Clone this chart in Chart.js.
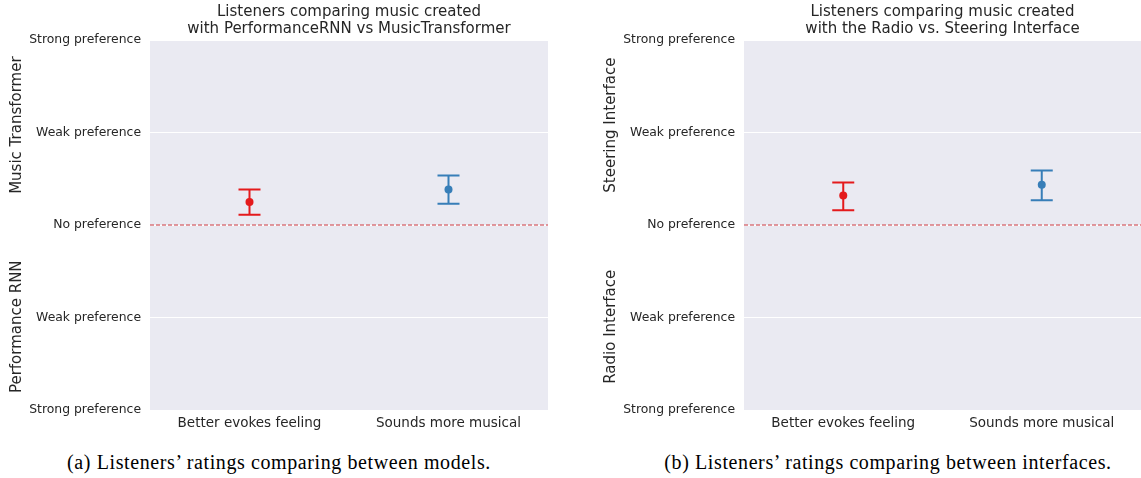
<!DOCTYPE html>
<html>
<head>
<meta charset="utf-8">
<script src="https://cdn.jsdelivr.net/npm/chart.js@4"></script>
<style>
  html, body { margin: 0; padding: 0; background: #ffffff; }
  #wrap { position: relative; width: 1141px; height: 478px; overflow: hidden; }
  canvas { position: absolute; top: 0; }
  .cap { position: absolute; top: 451px; font-family: "Liberation Serif", "DejaVu Serif", serif; font-size: 20px; letter-spacing: 0.6px; color: #000; white-space: nowrap; transform: translateX(-50%); }
</style>
</head>
<body>
<div id="wrap">
  <canvas id="chartA" width="552" height="445" style="left:0px"></canvas>
  <canvas id="chartB" width="551" height="445" style="left:594px"></canvas>
  <div class="cap" id="capA" style="left:279px"></div>
  <div class="cap" id="capB" style="left:888px"></div>
</div>
<script>
// ---------- data ----------
const categories = ["Better evokes feeling", "Sounds more musical"];
const yTickLabels = ["Strong preference", "Weak preference", "No preference", "Weak preference", "Strong preference"];
const pointColors = ["#e41a1c", "#377eb8"];

const titleA = ["Listeners comparing music created", "with PerformanceRNN vs MusicTransformer"];
const upperLabelA = "Music Transformer";
const lowerLabelA = "Performance RNN";
const meanA = [0.25, 0.385];
const lowA = [0.11, 0.23];
const highA = [0.385, 0.535];
const captionA = "(a) Listeners’ ratings comparing between models.";

const titleB = ["Listeners comparing music created", "with the Radio vs. Steering Interface"];
const upperLabelB = "Steering Interface";
const lowerLabelB = "Radio Interface";
const meanB = [0.32, 0.435];
const lowB = [0.16, 0.268];
const highB = [0.46, 0.588];
const captionB = "(b) Listeners’ ratings comparing between interfaces.";

document.getElementById('capA').textContent = captionA;
document.getElementById('capB').textContent = captionB;

const TEXT = '#262626';
const FONT = 'DejaVu Sans';

function decorPlugin(title, upperLabel, lowerLabel, low, high) {
  return {
    id: 'decor',
    beforeDraw(chart) {
      const { ctx, chartArea: a } = chart;
      ctx.save();
      ctx.fillStyle = '#eaeaf2';
      ctx.fillRect(a.left, a.top, a.right - a.left, a.bottom - a.top);
      ctx.restore();
    },
    beforeDatasetsDraw(chart) {
      const { ctx, chartArea: a, scales } = chart;
      const y = scales.y, x = scales.x;
      ctx.save();
      // reference line at zero
      const y0 = Math.round(y.getPixelForValue(0));
      ctx.strokeStyle = '#d9777d';
      ctx.lineWidth = 1.5;
      ctx.setLineDash([4, 2]);
      ctx.beginPath();
      ctx.moveTo(a.left, y0);
      ctx.lineTo(a.right, y0);
      ctx.stroke();
      ctx.setLineDash([]);
      // error bars
      ctx.lineWidth = 2;
      for (let i = 0; i < categories.length; i++) {
        const px = x.getPixelForValue(i);
        const pLo = y.getPixelForValue(low[i]);
        const pHi = y.getPixelForValue(high[i]);
        ctx.strokeStyle = pointColors[i];
        ctx.beginPath();
        ctx.moveTo(px, pLo); ctx.lineTo(px, pHi);
        ctx.moveTo(px - 11, pLo); ctx.lineTo(px + 11, pLo);
        ctx.moveTo(px - 11, pHi); ctx.lineTo(px + 11, pHi);
        ctx.stroke();
      }
      ctx.restore();
    },
    afterDraw(chart) {
      const { ctx, chartArea: a, scales } = chart;
      const y = scales.y;
      ctx.save();
      ctx.fillStyle = TEXT;
      ctx.font = '15px ' + FONT;
      ctx.textAlign = 'center';
      ctx.textBaseline = 'middle';
      const cx = (a.left + a.right) / 2;
      ctx.fillText(title[0], cx, 12);
      ctx.fillText(title[1], cx, 29);
      // side labels (rotated)
      const midUp = y.getPixelForValue(1.08);
      const midLo = y.getPixelForValue(-1.1);
      ctx.translate(17, 0);
      ctx.rotate(-Math.PI / 2);
      ctx.fillText(upperLabel, -midUp, 0);
      ctx.fillText(lowerLabel, -midLo, 0);
      ctx.restore();
    }
  };
}

function makeChart(id, title, upperLabel, lowerLabel, mean, low, high) {
  return new Chart(document.getElementById(id), {
    type: 'line',
    data: {
      labels: categories,
      datasets: [{
        data: mean,
        showLine: false,
        pointRadius: 4,
        pointHoverRadius: 4,
        pointBorderWidth: 0,
        pointBackgroundColor: pointColors,
        pointBorderColor: pointColors
      }]
    },
    options: {
      responsive: false,
      devicePixelRatio: 1,
      animation: false,
      events: [],
      layout: { padding: { top: 40, right: 0, left: 0, bottom: 0 } },
      plugins: { legend: { display: false }, title: { display: false }, tooltip: { enabled: false } },
      scales: {
        x: {
          type: 'category',
          offset: true,
          grid: { display: false, drawTicks: false },
          border: { display: false },
          ticks: { color: TEXT, font: { family: FONT, size: 13.5 }, padding: 5, maxRotation: 0 },
          afterFit(s) { s.height = 35; }
        },
        y: {
          min: -2, max: 2,
          grid: { color: '#ffffff', lineWidth: 1, drawTicks: false },
          border: { display: false },
          ticks: {
            stepSize: 1,
            color: TEXT,
            font: { family: FONT, size: 12.4 },
            padding: 9,
            callback: (v) => yTickLabels[Math.round(v) + 2]
          },
          afterFit(s) { s.width = 150; }
        }
      }
    },
    plugins: [decorPlugin(title, upperLabel, lowerLabel, low, high)]
  });
}

makeChart('chartA', titleA, upperLabelA, lowerLabelA, meanA, lowA, highA);
makeChart('chartB', titleB, upperLabelB, lowerLabelB, meanB, lowB, highB);
</script>
</body>
</html>
